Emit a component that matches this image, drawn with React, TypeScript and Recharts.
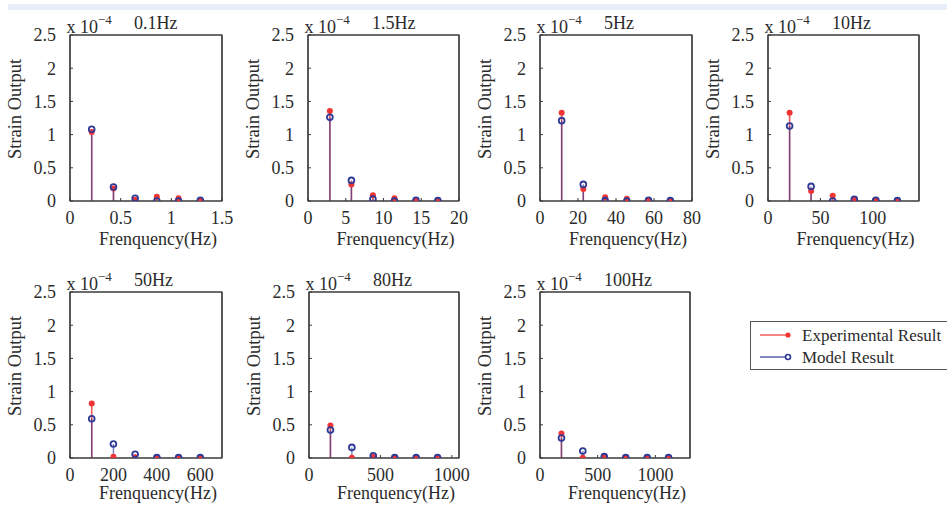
import React from 'react';
import { ScatterChart, Scatter, XAxis, YAxis, ReferenceLine, ReferenceArea } from 'recharts';

// ---------- data (strain values in units of 1e-4) ----------
const yTicks = [0, 0.5, 1, 1.5, 2, 2.5];

const freq01 = [0.214, 0.429, 0.643, 0.857, 1.071, 1.286];
const exp01 = [1.04, 0.19, 0.02, 0.065, 0.04, 0.015];
const model01 = [1.08, 0.21, 0.04, 0.0, 0.0, 0.01];
const xTicks01 = [0, 0.5, 1, 1.5];

const freq15 = [2.9, 5.75, 8.6, 11.45, 14.3, 17.2];
const exp15 = [1.355, 0.25, 0.086, 0.04, 0.015, 0.01];
const model15 = [1.26, 0.31, 0.03, 0.0, 0.01, 0.005];
const xTicks15 = [0, 5, 10, 15, 20];

const freq5 = [11.4, 22.8, 34.3, 45.7, 57.1, 68.6];
const exp5 = [1.33, 0.18, 0.056, 0.035, 0.01, 0.005];
const model5 = [1.21, 0.25, 0.005, 0.0, 0.01, 0.005];
const xTicks5 = [0, 20, 40, 60, 80];

const freq10 = [20.6, 41.1, 61.7, 82.3, 102.9, 123.4];
const exp10 = [1.33, 0.15, 0.08, 0.03, 0.01, 0.005];
const model10 = [1.13, 0.22, 0.0, 0.025, 0.01, 0.005];
const xTicks10 = [0, 50, 100];

const freq50 = [100, 200, 300, 400, 500, 600];
const exp50 = [0.82, 0.02, 0.01, 0.005, 0.005, 0.005];
const model50 = [0.59, 0.21, 0.056, 0.005, 0.005, 0.005];
const xTicks50 = [0, 200, 400, 600];

const freq80 = [150, 300, 450, 600, 750, 900];
const exp80 = [0.49, 0.005, 0.015, 0.005, 0.005, 0.005];
const model80 = [0.42, 0.16, 0.035, 0.005, 0.005, 0.005];
const xTicks80 = [0, 500, 1000];

const freq100 = [186, 371, 557, 743, 929, 1114];
const exp100 = [0.37, 0.005, 0.02, 0.005, 0.005, 0.005];
const model100 = [0.3, 0.105, 0.02, 0.005, 0.005, 0.005];
const xTicks100 = [0, 500, 1000];

const titles = ['0.1Hz', '1.5Hz', '5Hz', '10Hz', '50Hz', '80Hz', '100Hz'];
const legendLabels = ['Experimental Result', 'Model Result'];

// ---------- style ----------
const FONT = '"Liberation Serif", "Times New Roman", serif';
const TEXT = '#2b2b2b';
const AXIS = '#3a3a3a';
const RED = '#ef3434';
const RED_STEM = '#f05a5a';
const BLUE = '#2f3a96';

type PanelProps = {
  left: number; top: number; w: number; h: number;
  title: string; freqs: number[]; exp: number[]; model: number[];
  xmax: number; xticks: number[]; xLabelDy: number;
};

const ML = 70, MT = 35, MR = 22, MB = 60;

function Panel(p: PanelProps) {
  const expData = p.freqs.map((f, i) => ({ x: f, y: p.exp[i] }));
  const modelData = p.freqs.map((f, i) => ({ x: f, y: p.model[i] }));
  const W = p.w + ML + MR;
  const H = p.h + MT + MB;
  const tickStyle = { fill: TEXT, fontSize: 18, fontFamily: FONT };

  const yLabel = () => (
    <g fontFamily={FONT} fill={TEXT}>
      <text x={ML - 3.5} y={MT - 2.5} fontSize={18}>x 10</text>
      <text x={ML + 28} y={MT - 11} fontSize={13}>−4</text>
      <text x={ML + 64} y={MT - 6.5} fontSize={18}>{p.title}</text>
      <text
        x={ML - 49}
        y={MT + p.h / 2 - 9}
        transform={`rotate(-90, ${ML - 49}, ${MT + p.h / 2 - 9})`}
        textAnchor="middle"
        fontSize={18.5}
      >
        Strain Output
      </text>
    </g>
  );
  const xLabel = () => (
    <text
      x={ML + p.w / 2 + 12}
      y={MT + p.h + p.xLabelDy}
      textAnchor="middle"
      fontFamily={FONT}
      fontSize={18}
      fill={TEXT}
    >
      Frenquency(Hz)
    </text>
  );

  return (
    <div style={{ position: 'absolute', left: p.left - ML, top: p.top - MT }}>
      <ScatterChart width={W} height={H} margin={{ top: MT - 1, right: MR - 1, bottom: 0, left: 0 }}>
        <XAxis
          type="number"
          dataKey="x"
          domain={[0, p.xmax]}
          ticks={p.xticks}
          allowDataOverflow
          height={MB}
          tickSize={-3}
          tickMargin={13}
          tick={tickStyle}
          axisLine={{ stroke: AXIS, strokeWidth: 1.2 }}
          tickLine={{ stroke: AXIS }}
          label={xLabel}
        />
        <XAxis
          xAxisId="t"
          orientation="top"
          type="number"
          dataKey="x"
          domain={[0, p.xmax]}
          ticks={p.xticks}
          allowDataOverflow
          height={1}
          tickSize={-3}
          tick={false}
          axisLine={{ stroke: AXIS, strokeWidth: 1.2 }}
          tickLine={{ stroke: AXIS }}
        />
        <YAxis
          type="number"
          dataKey="y"
          domain={[0, 2.5]}
          ticks={yTicks}
          allowDataOverflow
          width={ML}
          tickSize={-3}
          tickMargin={17}
          tick={tickStyle}
          axisLine={{ stroke: AXIS, strokeWidth: 1.2 }}
          tickLine={{ stroke: AXIS }}
          label={yLabel}
        />
        <YAxis
          yAxisId="r"
          orientation="right"
          type="number"
          dataKey="y"
          domain={[0, 2.5]}
          ticks={yTicks}
          allowDataOverflow
          width={1}
          tickSize={-3}
          tick={false}
          axisLine={{ stroke: AXIS, strokeWidth: 1.2 }}
          tickLine={{ stroke: AXIS }}
        />
        <ReferenceArea
          x1={0}
          x2={p.xmax}
          y1={0}
          y2={2.5}
          fill="none"
          fillOpacity={0}
          stroke={AXIS}
          strokeWidth={1.2}
          strokeOpacity={1}
        />
        {expData.map((d, i) => (
          <ReferenceLine
            key={'re' + i}
            segment={[{ x: d.x, y: 0 }, { x: d.x, y: d.y }]}
            stroke={RED_STEM}
            strokeWidth={1.6}
          />
        ))}
        {modelData.map((d, i) => (
          <ReferenceLine
            key={'rm' + i}
            segment={[{ x: d.x, y: 0 }, { x: d.x, y: d.y }]}
            stroke={BLUE}
            strokeWidth={1.4}
            strokeOpacity={0.65}
          />
        ))}
        <Scatter
          data={expData}
          isAnimationActive={false}
          shape={(s: any) => <circle cx={s.cx} cy={s.cy} r={3} fill={RED} />}
        />
        <Scatter
          data={modelData}
          isAnimationActive={false}
          shape={(s: any) => (
            <circle cx={s.cx} cy={s.cy} r={2.9} fill="none" stroke={BLUE} strokeWidth={1.8} />
          )}
        />
      </ScatterChart>
    </div>
  );
}

function Legend() {
  return (
    <svg
      width={230}
      height={60}
      style={{ position: 'absolute', left: 745, top: 316 }}
      fontFamily={FONT}
    >
      <rect x={5.5} y={5.5} width={240} height={48} fill="#fff" stroke="#555" strokeWidth={1} />
      <line x1={15} y1={19} x2={43} y2={19} stroke={RED} strokeWidth={1.2} />
      <circle cx={43} cy={19} r={2.6} fill={RED} />
      <text x={57} y={24.5} fontSize={17} fill={TEXT}>{legendLabels[0]}</text>
      <line x1={15} y1={41} x2={43} y2={41} stroke={BLUE} strokeWidth={1.2} />
      <circle cx={43} cy={41} r={2.5} fill="#fff" stroke={BLUE} strokeWidth={1.6} />
      <text x={57} y={46.5} fontSize={17} fill={TEXT}>{legendLabels[1]}</text>
    </svg>
  );
}

export default function App() {
  const TOP1 = 35, TOP2 = 292, PH = 166;
  return (
    <div
      style={{
        position: 'fixed', left: 0, top: 0, width: 947, height: 506,
        overflow: 'hidden', background: '#fff',
      }}
    >
      <div style={{ position: 'absolute', left: 8, top: 4, width: 939, height: 6, background: '#e8eef8' }} />
      <Panel left={70} top={TOP1} w={152} h={PH} title={titles[0]} freqs={freq01} exp={exp01} model={model01} xmax={1.5} xticks={xTicks01} xLabelDy={44} />
      <Panel left={308} top={TOP1} w={151} h={PH} title={titles[1]} freqs={freq15} exp={exp15} model={model15} xmax={20} xticks={xTicks15} xLabelDy={44} />
      <Panel left={540} top={TOP1} w={152} h={PH} title={titles[2]} freqs={freq5} exp={exp5} model={model5} xmax={80} xticks={xTicks5} xLabelDy={44} />
      <Panel left={768} top={TOP1} w={151} h={PH} title={titles[3]} freqs={freq10} exp={exp10} model={model10} xmax={144} xticks={xTicks10} xLabelDy={44} />
      <Panel left={70} top={TOP2} w={152} h={PH} title={titles[4]} freqs={freq50} exp={exp50} model={model50} xmax={700} xticks={xTicks50} xLabelDy={41} />
      <Panel left={309} top={TOP2} w={150} h={PH} title={titles[5]} freqs={freq80} exp={exp80} model={model80} xmax={1050} xticks={xTicks80} xLabelDy={41} />
      <Panel left={540} top={TOP2} w={150} h={PH} title={titles[6]} freqs={freq100} exp={exp100} model={model100} xmax={1300} xticks={xTicks100} xLabelDy={41} />
      <Legend />
    </div>
  );
}
